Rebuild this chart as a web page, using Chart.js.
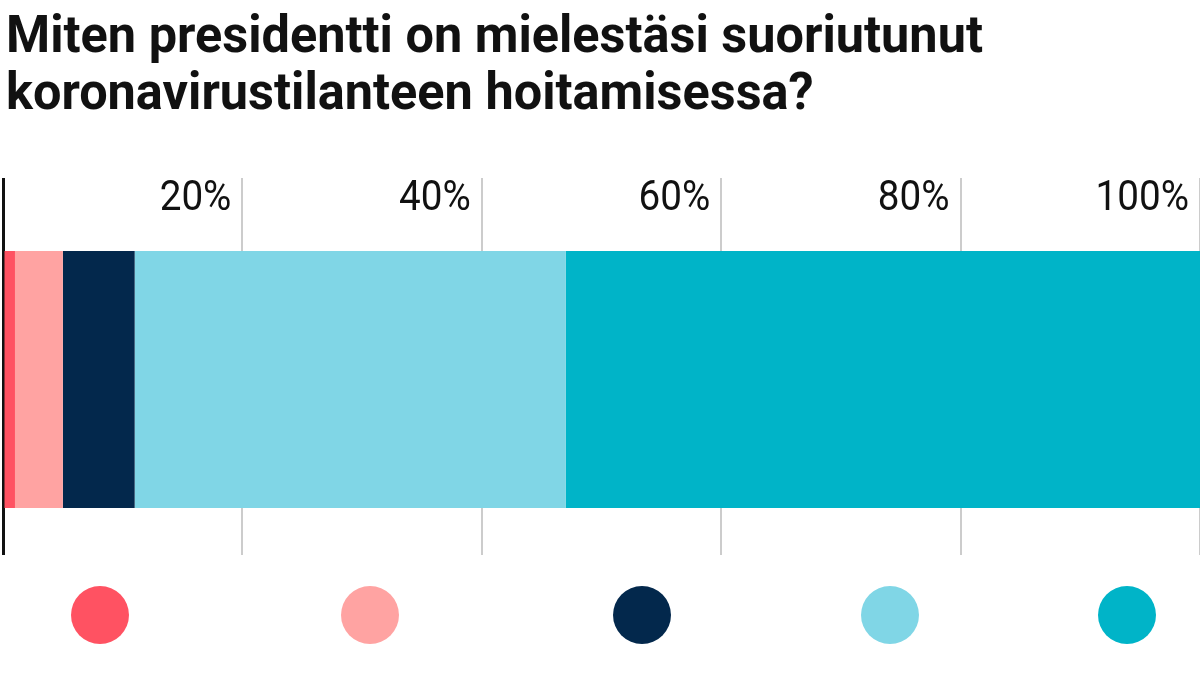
<!DOCTYPE html>
<html><head><meta charset="utf-8">
<script src="https://cdn.jsdelivr.net/npm/chart.js@4"></script>
<style>
body{margin:0;width:1200px;height:675px;overflow:hidden;background:#fff;font-family:Roboto,sans-serif;position:relative}
h1{position:absolute;left:6px;top:6px;margin:0;font-size:52px;line-height:57px;font-weight:700;color:#111;transform:scaleX(0.97);transform-origin:left top;white-space:nowrap}
#wrap{position:absolute;left:0;top:178px;width:1200px;height:377px;overflow:hidden}
#inner{width:1200px;height:403px}
#legend{position:absolute;left:0;top:586px;width:1200px}
.it{position:absolute;width:240px;margin-left:-120px;text-align:center}
.dot{width:58px;height:58px;border-radius:50%;margin:0 auto}
.lb{font-size:36px;font-weight:700;margin-top:28px;color:#111;white-space:nowrap}
</style></head><body>
<h1>Miten presidentti on mielestäsi suoriutunut<br>koronavirustilanteen hoitamisessa?</h1>
<div id="wrap"><div id="inner"><canvas id="c"></canvas></div></div>
<div id="legend"></div>
<script>
const labels = ['Erittäin huonosti', 'Melko huonosti', 'En osaa sanoa', 'Melko hyvin', 'Erittäin hyvin'];
const values = [1, 4, 6, 36, 53];
const colors = ['#ff5262', '#ffa3a2', '#03284c', '#80d6e6', '#00b4c8'];
const tickValues = [20, 40, 60, 80, 100];
const legendX = [100, 370, 642, 890, 1127];

const leg = document.getElementById('legend');
labels.forEach(function(l, i) {
  const d = document.createElement('div');
  d.className = 'it';
  d.style.left = legendX[i] + 'px';
  d.innerHTML = '<div class="dot" style="background:' + colors[i] + '"></div><div class="lb">' + l + '</div>';
  leg.appendChild(d);
});

const tickLabels = {
  id: 'tickLabels',
  afterDraw: function(chart) {
    const ctx = chart.ctx, x = chart.scales.x;
    ctx.save();
    ctx.fillStyle = '#111';
    ctx.font = '400 42px Roboto';
    ctx.textAlign = 'right';
    ctx.textBaseline = 'top';
    tickValues.forEach(function(v) {
      const px = x.getPixelForValue(v) - 11;
      ctx.save();
      ctx.translate(px, 0);
      ctx.scale(0.92, 1);
      ctx.fillText(v + '%', 0, 0);
      ctx.restore();
    });
    ctx.restore();
  }
};

new Chart(document.getElementById('c'), {
  type: 'bar',
  data: {
    labels: [''],
    datasets: values.map(function(v, i) {
      return { label: labels[i], data: [v], backgroundColor: colors[i], barPercentage: 1, categoryPercentage: 0.638 };
    })
  },
  options: {
    indexAxis: 'y',
    responsive: true,
    maintainAspectRatio: false,
    animation: false,
    layout: { padding: { left: 3, right: -2, top: 0, bottom: 0 } },
    plugins: { legend: { display: false }, tooltip: { enabled: false } },
    scales: {
      x: {
        stacked: true, min: 0, max: 100,
        ticks: { display: false, stepSize: 20 },
        border: { display: false },
        grid: {
          color: function(c) { return c.tick && c.tick.value === 0 ? '#111' : '#cccccc'; },
          lineWidth: function(c) { return c.tick && c.tick.value === 0 ? 3 : 2; },
          drawTicks: false
        }
      },
      y: { stacked: true, display: false }
    }
  },
  plugins: [tickLabels]
});
</script>
</body></html>
